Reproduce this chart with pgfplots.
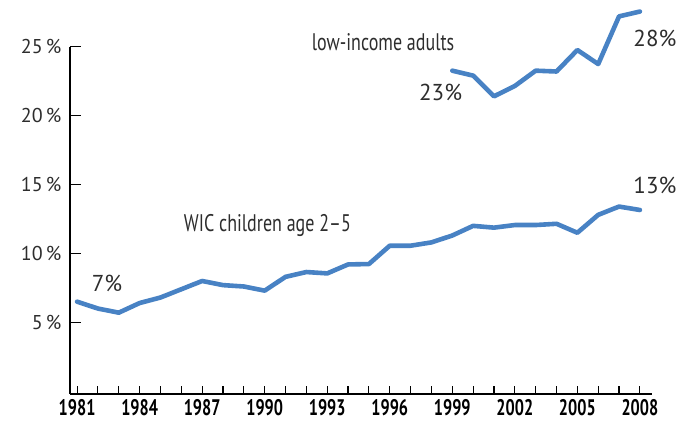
\documentclass[border=0pt]{standalone}
\usepackage{pgfplots}
\pgfplotsset{compat=1.18}
\usepackage{fontspec}
\setmainfont{PT Sans}
\newfontfamily\condfont[FakeStretch=0.72]{PT Sans}
\newfontfamily\annfont[FakeStretch=0.75]{PT Sans}
\definecolor{lineblue}{RGB}{72,130,196}
\definecolor{txt}{RGB}{45,45,45}
\begin{document}
\begin{tikzpicture}
\begin{axis}[
  scale only axis, width=582pt, height=347.3pt,
  xmin=1980.66, xmax=2008.58, ymin=-0.2, ymax=25,
  axis lines=left,
  axis line style={-, line width=1.2pt, black},
  clip=false,
  tick align=inside,
  tick style={line width=1.1pt, black},
  major tick length=11pt, minor tick length=8pt,
  xtick={1981,1984,...,2008},
  xticklabels={1981,1984,1987,1990,1993,1996,1999,2002,2005,2008},
  minor xtick={1981,...,2008},
  xtick style={/pgfplots/major tick length=8pt},
  ytick={5,10,15,20,25},
  yticklabels={5\,\%,10\,\%,15\,\%,20\,\%,25\,\%},
  xticklabel style={font=\condfont\bfseries\fontsize{22.5}{22.5}\selectfont, text=black, yshift=-1.5pt},
  yticklabel style={font=\fontsize{20}{20}\selectfont, text=txt, xshift=-5pt},
]
\addplot[lineblue, line width=4.6pt, line join=round, line cap=round] coordinates {
(1981,6.5) (1982,6.0) (1983,5.7) (1984,6.4) (1985,6.8) (1986,7.4) (1987,8.0)
(1988,7.7) (1989,7.6) (1990,7.3) (1991,8.3) (1992,8.65) (1993,8.55) (1994,9.2)
(1995,9.23) (1996,10.56) (1997,10.56) (1998,10.8) (1999,11.3) (2000,12.0)
(2001,11.87) (2002,12.06) (2003,12.06) (2004,12.15) (2005,11.5) (2006,12.8)
(2007,13.4) (2008,13.15)
};
\addplot[lineblue, line width=4.6pt, line join=round, line cap=round] coordinates {
(1999,23.26) (2000,22.9) (2001,21.4) (2002,22.15) (2003,23.26) (2004,23.2)
(2005,24.76) (2006,23.74) (2007,27.2) (2008,27.55)
};
\node[anchor=base, font=\annfont\fontsize{24}{24}\selectfont, text=txt, inner sep=0pt] at (axis cs:1995.68,24.76) {low-income adults};
\node[anchor=base, font=\annfont\fontsize{24}{24}\selectfont, text=txt, inner sep=0pt] at (axis cs:1990.13,11.57) {WIC children age 2–5};
\node[anchor=base, font=\fontsize{23}{23}\selectfont, text=txt, inner sep=0pt] at (axis cs:1998.44,21.13) {23\%};
\node[anchor=base, font=\fontsize{23}{23}\selectfont, text=txt, inner sep=0pt] at (axis cs:2008.72,25.05) {28\%};
\node[anchor=base, font=\fontsize{23}{23}\selectfont, text=txt, inner sep=0pt] at (axis cs:2008.72,14.36) {13\%};
\node[anchor=base, font=\fontsize{23}{23}\selectfont, text=txt, inner sep=0pt] at (axis cs:1982.44,7.22) {7\%};
\end{axis}
\pgfresetboundingbox
\path[use as bounding box] (-70pt,-28pt) rectangle (611pt,394pt);
\end{tikzpicture}
\end{document}
